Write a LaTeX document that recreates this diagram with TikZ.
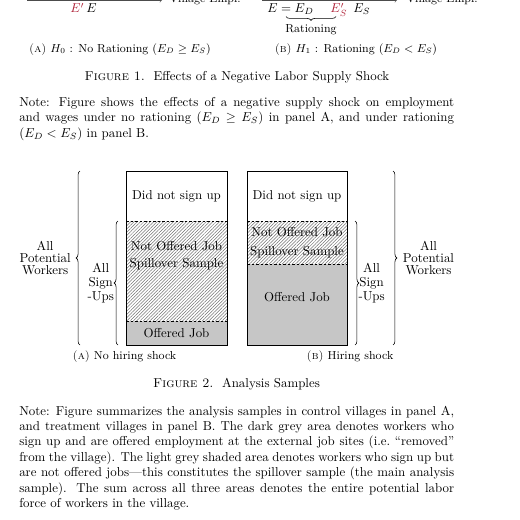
\documentclass[tikz,border=0pt]{standalone}
\usepackage{fontspec}
\usepackage{amsmath,amssymb}
\usetikzlibrary{positioning, calc, decorations.pathreplacing, patterns.meta}
\definecolor{shockred}{HTML}{B0243A}

\begin{document}
\begin{tikzpicture}[
  x=0.775pt, y=0.775pt,
  note/.style={text width=337pt, align=justify, inner sep=0pt, anchor=base west},
  figcap/.style={inner sep=0pt, anchor=base},
  subcap/.style={inner sep=0pt, anchor=base, font=\small},
  lbl/.style={inner sep=0pt, align=center},
  spill/.style={pattern={Lines[angle=45, distance=1.8pt, line width=0.4pt]},
    pattern color=black!55},
  offer/.style={fill=gray!45},
  cut/.style={dash pattern=on 2pt off 1.5pt, line width=0.5pt},
  frame/.style={line width=0.6pt},
  brace/.style={decorate, decoration={brace, amplitude=3pt}, line width=0.45pt},
  axis/.style={->, line width=0.4pt, black!70},
]
  \useasboundingbox (0,0) rectangle (520,-520);
  \clip (0,0) rectangle (520,-520);

  % Figure 1 (bottom of the panels)
  \coordinate (ax1-l) at (27,-0.2);
  \coordinate (ax1-r) at (162,-0.2);
  \coordinate (ax2-l) at (262,-0.2);
  \coordinate (ax2-r) at (397,-0.2);
  \draw[axis] (ax1-l) -- (ax1-r);
  \draw[axis] (ax2-l) -- (ax2-r);
  \node[anchor=base west, inner sep=0pt, font=\small] (emp1) at (169,-2.8) {Village Empl.};
  \node[anchor=base west, inner sep=0pt, font=\small] (emp2) at (406,-2.8) {Village Empl.};

  \node[anchor=base west, inner sep=0pt] (e1) at (70,-13) {$\textcolor{shockred}{E'}\,E$};
  \node[anchor=base west, inner sep=0pt] (e2) at (267,-13) {$E=E_D$};
  \node[anchor=base west, inner sep=0pt] (es2) at (330,-13) {$\textcolor{shockred}{E'_S}$};
  \node[anchor=base west, inner sep=0pt] (s2) at (353,-13) {$E_S$};
  \coordinate (rat-l) at (286,-16.5);
  \coordinate (rat-r) at (336,-16.5);
  \draw[brace, decoration={mirror}] (rat-l) -- node[below=3pt, font=\small] (rat) {Rationing} (rat-r);

  \node[subcap] (capA1) at (120,-52) {\textsc{(a)} $H_0$ : No Rationing ($E_D \geq E_S$)};
  \node[subcap] (capB1) at (356,-52) {\textsc{(b)} $H_1$ : Rationing ($E_D < E_S$)};
  \node[figcap] (fig1) at (237,-80) {\textsc{Figure 1.}\ \ Effects of a Negative Labor Supply Shock};

  \node[note] (note1) at (19,-106.5) {Note: Figure shows the effects of a negative supply shock on employment\linebreak
    and wages under no rationing ($E_D \geq E_S$) in panel A, and under rationing\linebreak
    ($E_D < E_S$) in panel B.};

  % Figure 2, panel A
  \path[spill] (126,-221) rectangle (227,-321);
  \path[offer] (126,-321) rectangle (227,-345);
  \draw[cut] (126,-221) -- (227,-221) (126,-321) -- (227,-321);
  \draw[frame] (126,-171) rectangle (227,-345);
  \node (A-none) at (176.5,-196) {Did not sign up};
  \node[lbl] (A-spill) at (176.5,-255.5) {Not Offered Job\\[1.2pt]Spillover Sample};
  \node (A-offer) at (176.5,-333) {Offered Job};

  % Figure 2, panel B
  \path[spill] (247,-221) rectangle (347,-264);
  \path[offer] (247,-264) rectangle (347,-345);
  \draw[cut] (247,-221) -- (347,-221) (247,-264) -- (347,-264);
  \draw[frame] (247,-171) rectangle (347,-345);
  \node (B-none) at (297,-196) {Did not sign up};
  \node[lbl] (B-spill) at (297,-242.5) {Not Offered Job\\[2.7pt]Spillover Sample};
  \node (B-offer) at (297,-297) {Offered Job};

  % braces
  \coordinate (A-pot-b) at (80,-345);
  \coordinate (A-pot-t) at (80,-171);
  \coordinate (A-sign-b) at (118,-345);
  \coordinate (A-sign-t) at (118,-221);
  \coordinate (B-sign-t) at (355,-221);
  \coordinate (B-sign-b) at (355,-345);
  \coordinate (B-pot-t) at (393,-171);
  \coordinate (B-pot-b) at (393,-345);
  \draw[brace] (A-pot-b) -- node[left=7pt, lbl] (A-pot) {All\\[-2.7pt]Potential\\[-2.7pt]Workers} (A-pot-t);
  \draw[brace] (A-sign-b) -- node[left=3pt, lbl] (A-sign) {All\\[-1.2pt]Sign\\[-1.2pt]-Ups} (A-sign-t);
  \draw[brace] (B-sign-t) -- node[right=2.5pt, lbl] (B-sign) {All\\[-1.2pt]Sign\\[-1.2pt]-Ups} (B-sign-b);
  \draw[brace] (B-pot-t) -- node[right=7.5pt, lbl] (B-pot) {All\\[-2.7pt]Potential\\[-2.7pt]Workers} (B-pot-b);

  \node[subcap] (capA2) at (124.5,-359) {\textsc{(a)} No hiring shock};
  \node[subcap] (capB2) at (350,-359) {\textsc{(b)} Hiring shock};
  \node[figcap] (fig2) at (236.5,-387) {\textsc{Figure 2.}\ \ Analysis Samples};

  \node[note] (note2) at (19,-415) {Note: Figure summarizes the analysis samples in control villages in panel A,\linebreak
    and treatment villages in panel B. The dark grey area denotes workers who\linebreak
    sign up and are offered employment at the external job sites (i.e.\ “removed”\linebreak
    from the village). The light grey shaded area denotes workers who sign up but\linebreak
    are not offered jobs—this constitutes the spillover sample (the main analysis\linebreak
    sample). The sum across all three areas denotes the entire potential labor\linebreak
    force of workers in the village.};
\end{tikzpicture}
\end{document}
